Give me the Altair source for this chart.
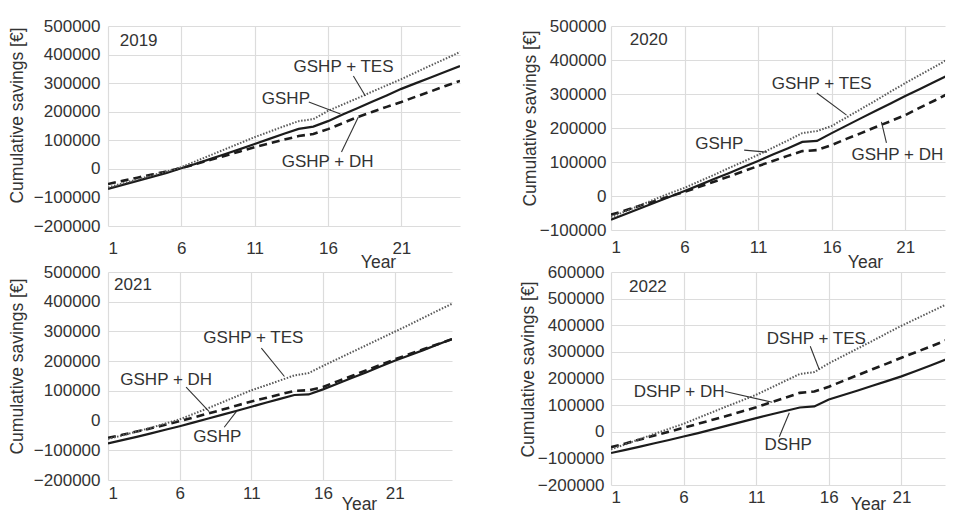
import altair as alt
import pandas as pd

years = list(range(1, 26))

# ---- 2019 ----
gshp_2019 = [-70000, -56000, -42000, -28000, -14000, 2000, 18000, 35000, 52000, 69000,
             87000, 105000, 123000, 140000, 148000, 167000, 190000, 212000, 235000, 257000,
             280000, 300000, 320000, 340000, 360000]
gshp_tes_2019 = [-65000, -51000, -37000, -23000, -9000, 6000, 27000, 48000, 69000, 90000,
                 111000, 130000, 149000, 167000, 174000, 203000, 225000, 247000, 270000, 292000,
                 314000, 338000, 362000, 385000, 409000]
gshp_dh_2019 = [-53000, -42000, -31000, -20000, -9000, 3000, 17000, 32000, 46000, 61000,
                76000, 89000, 102000, 115000, 122000, 139000, 160000, 181000, 199000, 217000,
                234000, 253000, 271000, 290000, 308000]

# ---- 2020 ----
gshp_2020 = [-70000, -53000, -36000, -19000, -2000, 15000, 32000, 50000, 67000, 85000,
             103000, 122000, 140000, 159000, 162000, 185000, 207000, 229000, 251000, 272000,
             294000, 315000, 336000, 357000, 378000]
gshp_tes_2020 = [-62000, -45000, -27000, -9000, 8000, 24000, 43000, 62000, 82000, 101000,
                 121000, 142000, 163000, 185000, 191000, 206000, 231000, 256000, 281000, 307000,
                 332000, 356000, 380000, 405000, 430000]
gshp_dh_2020 = [-55000, -42000, -28000, -15000, -1000, 12000, 27000, 42000, 57000, 73000,
                88000, 103000, 118000, 132000, 135000, 150000, 168000, 185000, 203000, 220000,
                238000, 260000, 281000, 303000, 325000]

# ---- 2021 ----
gshp_2021 = [-77000, -66000, -55000, -43000, -31000, -19000, -6000, 7000, 20000, 33000,
             46500, 60000, 73000, 86000, 88000, 105000, 124000, 143000, 162000, 182000,
             201000, 219000, 237000, 256000, 274000]
gshp_tes_2021 = [-62000, -50000, -37000, -24000, -10000, 4000, 23000, 42000, 62000, 82000,
                 102000, 118000, 135000, 152000, 160000, 184000, 207000, 230000, 253000, 276000,
                 299000, 322000, 346000, 370000, 393000]
gshp_dh_2021 = [-58000, -48000, -37000, -26000, -14000, -2000, 11000, 24000, 37000, 51000,
                64000, 76000, 88000, 100000, 102000, 113000, 132000, 150000, 169000, 187000,
                206000, 223000, 240000, 257000, 274000]

# ---- 2022 ----
dshp_2022 = [-80000, -68000, -56000, -43000, -31000, -18000, -5000, 9000, 23000, 37000,
             51000, 65000, 78000, 91000, 95000, 121000, 138000, 155000, 173000, 190000,
             208000, 228000, 249000, 270000, 291000]
dshp_tes_2022 = [-66000, -47000, -27000, -8000, 11000, 30000, 52000, 74000, 96000, 117000,
                 139000, 165000, 191000, 217000, 224000, 257000, 285000, 313000, 341000, 370000,
                 398000, 424000, 450000, 476000, 502000]
dshp_dh_2022 = [-58000, -44000, -29000, -14000, 0, 15000, 30000, 45000, 60000, 76000,
                92000, 110000, 128000, 146000, 151000, 169000, 191000, 213000, 235000, 256000,
                278000, 299000, 320000, 342000, 364000]

x_ticks = [1, 6, 11, 16, 21]

# annotations: (text, year, value)
annos_2019 = [("GSHP + TES", 17.06, 356500), ("GSHP", 13.13, 244500), ("GSHP + DH", 15.97, 24000)]
annos_2020 = [("GSHP + TES", 15.32, 329000), ("GSHP", 8.36, 153000), ("GSHP + DH", 20.46, 120600)]
annos_2021 = [("GSHP + TES", 11.14, 276500), ("GSHP + DH", 5.06, 135300), ("GSHP", 8.62, -55300)]
annos_2022 = [("DSHP + TES", 15.14, 350000), ("DSHP + DH", 5.69, 151000), ("DSHP", 13.2, -51600)]

# leader lines: (year1, value1, year2, value2)
leaders_2019 = [(17.73, 325000, 18.55, 255000), (14.69, 234000, 16.85, 192000), (16.92, 59000, 18.07, 181500)]
leaders_2020 = [(14.99, 303000, 17.01, 238000), (10.05, 135000, 11.6, 129000), (19.72, 156000, 19.38, 217700)]
leaders_2021 = [(11.7, 243700, 13.31, 148400), (6.45, 112200, 8.06, 30100), (9.11, -22500, 9.95, 30100)]
leaders_2022 = [(14.72, 321000, 15.34, 234000), (8.86, 151000, 12.1, 111000), (12.59, -19000, 13.28, 71500)]

# panel year tags: (text, year, value)
tag_2019 = ("2019", 1.8, 447500)
tag_2020 = ("2020", 2.28, 459000)
tag_2021 = ("2021", 1.42, 457000)
tag_2022 = ("2022", 2.24, 542000)

FONT = "Liberation Sans"
TXT = "#333333"


def panel(solid, dotted, dashed, ydom, xmax, width, height, annos, leaders, tag,
          lab_pad_x, title_x, title_y, lab_pad_y, title_pad_y, ytitle_pos):
    df = pd.DataFrame({"year": years, "solid": solid, "dotted": dotted, "dashed": dashed})
    xs = alt.Scale(domain=[1, xmax], nice=False, zero=False)
    ys = alt.Scale(domain=ydom, nice=False, zero=False)
    xa = alt.Axis(values=x_ticks, title="Year", labelPadding=lab_pad_x, titleX=title_x,
                  titleY=title_y, titleAlign="center", titleBaseline="top", titleAnchor="start")
    ya = alt.Axis(values=list(range(ydom[0], ydom[1] + 1, 100000)), format="d",
                  title="Cumulative savings [€]", labelPadding=lab_pad_y,
                  titlePadding=title_pad_y, titleY=ytitle_pos, titleAlign="center")
    X = alt.X("year:Q", scale=xs, axis=xa)

    l_solid = alt.Chart(df).mark_line(color="#1c1c1c", strokeWidth=2.2, clip=True).encode(
        x=X, y=alt.Y("solid:Q", scale=ys, axis=ya))
    l_dashed = alt.Chart(df).mark_line(color="#1c1c1c", strokeWidth=2.6, strokeDash=[8, 5],
                                       clip=True).encode(
        x=X, y=alt.Y("dashed:Q", scale=ys, axis=ya))
    l_dotted = alt.Chart(df).mark_line(color="#5a5a5a", strokeWidth=2, strokeDash=[1.5, 1.6],
                                       clip=True).encode(
        x=X, y=alt.Y("dotted:Q", scale=ys, axis=ya))

    adf = pd.DataFrame(annos, columns=["label", "year", "value"])
    t = alt.Chart(adf).mark_text(font=FONT, fontSize=17, color=TXT, align="center",
                                 baseline="middle").encode(
        x=alt.X("year:Q", scale=xs, axis=xa), y=alt.Y("value:Q", scale=ys, axis=ya), text="label:N")

    ldf = pd.DataFrame(leaders, columns=["x1", "y1", "x2", "y2"])
    r = alt.Chart(ldf).mark_rule(color="#333333", strokeWidth=1.1).encode(
        x=alt.X("x1:Q", scale=xs, axis=xa), y=alt.Y("y1:Q", scale=ys, axis=ya),
        x2="x2:Q", y2="y2:Q")

    tdf = pd.DataFrame([tag], columns=["label", "year", "value"])
    tg = alt.Chart(tdf).mark_text(font=FONT, fontSize=17, color=TXT, align="left",
                                  baseline="middle").encode(
        x=alt.X("year:Q", scale=xs, axis=xa), y=alt.Y("value:Q", scale=ys, axis=ya), text="label:N")

    return alt.layer(l_solid, l_dashed, l_dotted, r, t, tg).properties(width=width, height=height)


p1 = panel(gshp_2019, gshp_tes_2019, gshp_dh_2019, [-200000, 500000], 25, 352, 200,
           annos_2019, leaders_2019, tag_2019, 14, 270, 27, 8, 7, 89)
p2 = panel(gshp_2020, gshp_tes_2020, gshp_dh_2020, [-100000, 500000], 23.7, 334, 204,
           annos_2020, leaders_2020, tag_2020, 9, 254, 23, 5, 0, 92)
p3 = panel(gshp_2021, gshp_tes_2021, gshp_dh_2021, [-200000, 500000], 25, 344, 208,
           annos_2021, leaders_2021, tag_2021, 5, 251, 15, 8, 7, 94)
p4 = panel(dshp_2022, dshp_tes_2022, dshp_dh_2022, [-200000, 600000], 24, 334, 213,
           annos_2022, leaders_2022, tag_2022, 4, 257, 10, 7, 0, 97)

chart = alt.concat(p1, p2, p3, p4, columns=2, spacing={"row": 42, "column": 151},
                   bounds="flush").properties(
    autosize=alt.AutoSizeParams(type="none"),
    padding={"left": 100, "top": 18, "right": 841, "bottom": 487}
).configure_view(stroke=None).configure_axis(
    labelFont=FONT, titleFont=FONT, labelFontSize=17, titleFontSize=17.5,
    titleFontWeight="normal", labelColor=TXT, titleColor=TXT,
    gridColor="#dcdcdc", gridWidth=1.2, domain=False, ticks=False
)

chart.save("out.html", embed_options={"renderer": "svg", "actions": False})
